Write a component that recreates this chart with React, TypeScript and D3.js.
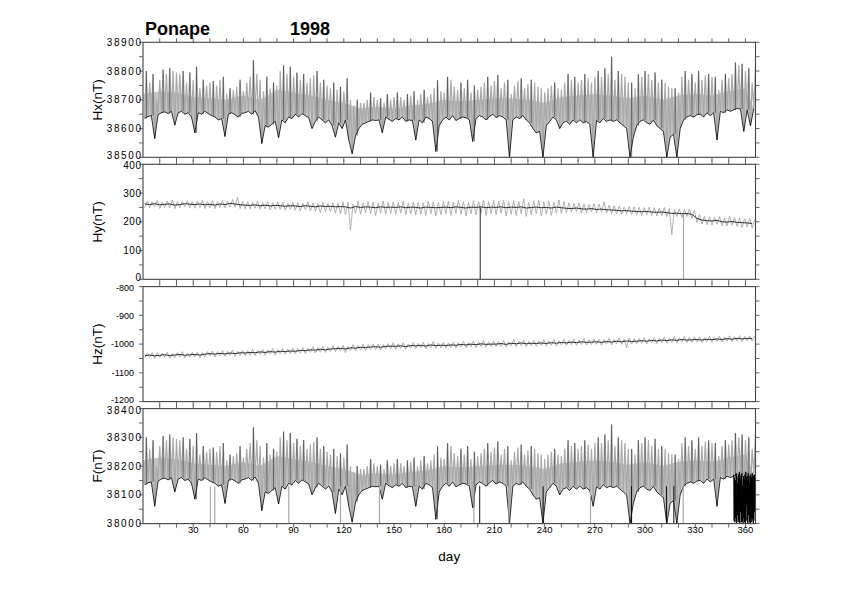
import * as d3 from 'd3';

// Ponape 1998 magnetometer record.
// Hx and F: night-time level and daily peak, one pair per 2 days (day 1, 3, 5 ...)
const hxBase = [
  38635, 38642, 38645, 38565, 38648, 38655, 38658, 38652, 38660, 38612,
  38655, 38660, 38650, 38655, 38640, 38585, 38655, 38650, 38660, 38652,
  38645, 38640, 38630, 38635, 38572, 38650, 38655, 38648, 38640, 38652,
  38655, 38660, 38650, 38662, 38640, 38548, 38610, 38605, 38615, 38625,
  38568, 38630, 38620, 38640, 38635, 38650, 38640, 38652, 38645, 38638,
  38600, 38625, 38640, 38630, 38620, 38630, 38610, 38570, 38620, 38600,
  38630, 38560, 38512, 38575, 38600, 38615, 38620, 38625, 38630, 38628,
  38630, 38585, 38640, 38632, 38625, 38635, 38630, 38640, 38625, 38630,
  38628, 38560, 38630, 38620, 38640, 38635, 38625, 38520, 38610, 38630,
  38640, 38630, 38645, 38628, 38635, 38640, 38638, 38630, 38555, 38635,
  38645, 38640, 38630, 38642, 38650, 38638, 38645, 38640, 38630, 38500,
  38630, 38640, 38635, 38645, 38630, 38620, 38600, 38585, 38590, 38500,
  38610, 38625, 38640, 38630, 38600, 38620, 38625, 38615, 38630, 38620,
  38630, 38620, 38625, 38615, 38500, 38628, 38620, 38635, 38625, 38630,
  38625, 38630, 38620, 38610, 38600, 38500, 38570, 38610, 38625, 38630,
  38620, 38615, 38630, 38610, 38600, 38590, 38500, 38570, 38580, 38500,
  38600, 38630, 38640, 38645, 38640, 38648, 38650, 38640, 38655, 38645,
  38655, 38560, 38660, 38655, 38665, 38660, 38665, 38670, 38668, 38590,
  38665, 38610, 38670,
];
const hxPeak = [
  38800, 38760, 38790, 38700, 38770, 38805, 38790, 38810, 38800, 38795,
  38790, 38800, 38760, 38795, 38770, 38815, 38740, 38770, 38750, 38760,
  38765, 38750, 38770, 38780, 38720, 38740, 38735, 38745, 38770, 38730,
  38760, 38780, 38838, 38790, 38770, 38730, 38780, 38740, 38760, 38750,
  38800, 38820, 38790, 38815, 38780, 38795, 38770, 38790, 38760, 38775,
  38785, 38800, 38760, 38770, 38750, 38740, 38760, 38735, 38745, 38730,
  38775, 38700, 38680, 38700, 38690, 38690, 38700, 38725, 38710, 38700,
  38705, 38690, 38720, 38700, 38710, 38725, 38710, 38700, 38720, 38715,
  38730, 38700, 38720, 38735, 38710, 38720, 38740, 38768, 38730, 38725,
  38780, 38770, 38745, 38735, 38760, 38740, 38770, 38725, 38750, 38735,
  38745, 38760, 38780, 38750, 38765, 38786, 38740, 38760, 38770, 38720,
  38750, 38765, 38775, 38740, 38755, 38770, 38760, 38745, 38740, 38725,
  38740, 38750, 38760, 38740, 38735, 38760, 38790, 38770, 38780, 38760,
  38770, 38790, 38775, 38760, 38780, 38800, 38780, 38810, 38790, 38850,
  38770, 38800, 38790, 38780, 38760, 38760, 38740, 38790, 38780, 38800,
  38790, 38770, 38795, 38760, 38770, 38760, 38745, 38740, 38740, 38725,
  38780, 38800, 38770, 38790, 38760, 38800, 38770, 38785, 38790, 38780,
  38780, 38735, 38770, 38790, 38775, 38790, 38830, 38820, 38825, 38800,
  38810, 38760, 38820,
];
// upper edge of the dense grey band, one value per 10 days (day 0, 10, ... 360)
const hxBand = [
  38720, 38730, 38725, 38710, 38705, 38700, 38715, 38700, 38735, 38725,
  38715, 38700, 38690, 38670, 38675, 38670, 38680, 38685, 38700, 38695,
  38700, 38705, 38705, 38700, 38690, 38710, 38715, 38720, 38715, 38705,
  38715, 38700, 38715, 38720, 38715, 38730, 38740,
];
const fBase = [
  38135, 38142, 38145, 38060, 38148, 38155, 38158, 38152, 38160, 38110,
  38155, 38160, 38150, 38155, 38140, 38085, 38155, 38150, 38160, 38152,
  38145, 38140, 38130, 38135, 38070, 38150, 38155, 38148, 38140, 38152,
  38155, 38160, 38150, 38162, 38140, 38045, 38110, 38105, 38115, 38125,
  38068, 38130, 38120, 38140, 38135, 38150, 38140, 38152, 38145, 38138,
  38100, 38125, 38140, 38130, 38120, 38130, 38110, 38035, 38120, 38100,
  38130, 38060, 38005, 38075, 38100, 38115, 38120, 38125, 38130, 38128,
  38130, 38085, 38140, 38132, 38125, 38135, 38130, 38140, 38125, 38130,
  38128, 38060, 38130, 38120, 38140, 38135, 38125, 38015, 38110, 38130,
  38140, 38130, 38145, 38128, 38135, 38140, 38138, 38130, 38055, 38135,
  38145, 38140, 38130, 38142, 38150, 38138, 38145, 38140, 38130, 38000,
  38130, 38140, 38135, 38145, 38130, 38120, 38100, 38085, 38090, 38000,
  38110, 38125, 38140, 38130, 38100, 38120, 38125, 38115, 38130, 38120,
  38130, 38120, 38125, 38115, 38060, 38128, 38120, 38135, 38125, 38130,
  38125, 38130, 38120, 38110, 38100, 38000, 38070, 38110, 38125, 38130,
  38120, 38115, 38130, 38110, 38100, 38090, 38000, 38070, 38080, 38000,
  38100, 38130, 38140, 38145, 38140, 38148, 38150, 38140, 38155, 38145,
  38155, 38060, 38160, 38155, 38165, 38160, 38165, 38170, 38168, 38090,
  38165, 38110, 38170,
];
const fPeak = [
  38300, 38260, 38290, 38200, 38270, 38305, 38290, 38310, 38300, 38295,
  38290, 38300, 38260, 38295, 38270, 38315, 38240, 38270, 38250, 38260,
  38265, 38250, 38270, 38280, 38220, 38240, 38235, 38245, 38270, 38230,
  38260, 38280, 38335, 38290, 38270, 38230, 38280, 38240, 38260, 38250,
  38300, 38320, 38290, 38315, 38280, 38295, 38270, 38290, 38260, 38275,
  38285, 38300, 38260, 38270, 38250, 38240, 38260, 38235, 38245, 38230,
  38275, 38200, 38180, 38200, 38190, 38190, 38200, 38225, 38210, 38200,
  38205, 38190, 38220, 38200, 38210, 38225, 38210, 38200, 38220, 38215,
  38230, 38200, 38220, 38235, 38210, 38220, 38240, 38268, 38230, 38225,
  38280, 38270, 38245, 38235, 38260, 38240, 38270, 38225, 38250, 38235,
  38245, 38260, 38280, 38250, 38265, 38286, 38240, 38260, 38270, 38220,
  38250, 38265, 38275, 38240, 38255, 38270, 38260, 38245, 38240, 38225,
  38240, 38250, 38260, 38240, 38235, 38260, 38290, 38270, 38280, 38260,
  38270, 38290, 38275, 38260, 38280, 38300, 38280, 38310, 38290, 38345,
  38270, 38300, 38290, 38280, 38260, 38260, 38240, 38290, 38280, 38300,
  38290, 38270, 38295, 38260, 38270, 38260, 38245, 38240, 38240, 38225,
  38280, 38300, 38270, 38290, 38260, 38300, 38270, 38285, 38290, 38280,
  38280, 38235, 38270, 38290, 38275, 38290, 38315, 38300, 38310, 38290,
  38300, 38260, 38310,
];
const fBand = [
  38220, 38230, 38225, 38210, 38205, 38200, 38215, 38200, 38235, 38225,
  38215, 38200, 38190, 38170, 38175, 38170, 38180, 38185, 38200, 38195,
  38200, 38205, 38205, 38200, 38190, 38210, 38215, 38220, 38215, 38205,
  38215, 38200, 38215, 38220, 38215, 38230, 38240,
];
// F: gaps that fall to the bottom of the panel, and the noisy stretch at year end
const fGrayDrops = [40.3, 42.9, 87.1, 118, 141.3, 197.7, 218.6, 267.4, 322.8];
const fBlackDrops = [201.2, 239.1, 291.9, 312.8, 317.2];
const fEndStart = 353;
const fEndValues = [
  38170, 38010, 38160, 38005, 38150, 38020, 38175, 38000, 38165, 38030,
  38140, 38005, 38170, 38015, 38180, 38000, 38150, 38040, 38160, 38005,
  38175, 38010, 38130, 38000, 38165, 38020, 38155, 38005, 38170, 38000,
  38180, 38060, 38160, 38010, 38150, 38000, 38175, 38030, 38165, 38005,
  38140, 38000, 38170, 38020, 38160, 38005, 38175, 38015, 38150, 38000,
  38165, 38040, 38170, 38010,
];

// Hy and Hz: one value per 3 days (day 1, 4, 7 ...): centre, low and high of the scatter
const hyMid = [
  262, 260, 263, 259, 261, 262, 258, 260, 263, 261,
  260, 262, 259, 261, 258, 262, 260, 264, 262, 259,
  258, 257, 259, 256, 258, 255, 257, 256, 254, 256,
  255, 253, 256, 254, 252, 255, 253, 254, 252, 253,
  252, 248, 253, 250, 252, 251, 249, 252, 250, 251,
  250, 252, 249, 251, 250, 248, 251, 250, 249, 250,
  251, 249, 252, 250, 248, 251, 250, 252, 249, 251,
  250, 252, 249, 251, 250, 252, 248, 250, 251, 249,
  250, 248, 251, 249, 247, 246, 248, 245, 244, 246,
  243, 244, 242, 241, 240, 238, 239, 237, 236, 235,
  236, 234, 233, 234, 232, 229, 230, 228, 229, 226,
  212, 206, 204, 203, 205, 200, 199, 201, 198, 197,
  196, 194,
];
const hyHi = [
  272, 270, 275, 268, 272, 276, 270, 271, 274, 270,
  272, 275, 270, 273, 271, 276, 272, 278, 285, 270,
  270, 268, 272, 267, 270, 266, 269, 268, 265, 268,
  266, 264, 270, 265, 263, 268, 264, 266, 265, 270,
  268, 262, 272, 266, 270, 268, 265, 272, 267, 270,
  268, 272, 265, 270, 268, 266, 272, 270, 268, 271,
  272, 268, 275, 270, 268, 274, 271, 276, 270, 274,
  272, 276, 270, 274, 271, 280, 268, 273, 275, 270,
  272, 268, 276, 270, 266, 264, 266, 262, 260, 263,
  262, 270, 258, 256, 255, 252, 254, 252, 251, 250,
  251, 249, 248, 250, 246, 244, 245, 243, 244, 240,
  225, 220, 217, 216, 218, 214, 220, 215, 212, 211,
  212, 208,
];
const hyLo = [
  250, 248, 252, 246, 250, 249, 245, 248, 252, 249,
  247, 250, 246, 249, 245, 250, 248, 251, 250, 246,
  245, 244, 247, 243, 245, 242, 244, 243, 240, 243,
  240, 238, 242, 238, 236, 232, 235, 236, 230, 228,
  225, 170, 230, 226, 232, 228, 222, 230, 226, 229,
  226, 230, 225, 228, 224, 226, 222, 228, 220, 225,
  228, 222, 230, 226, 220, 228, 224, 230, 222, 228,
  224, 230, 220, 226, 222, 228, 218, 225, 228, 220,
  226, 222, 230, 228, 232, 234, 236, 230, 232, 235,
  232, 234, 230, 229, 228, 226, 228, 225, 224, 222,
  225, 222, 220, 222, 218, 155, 218, 215, 218, 212,
  198, 192, 190, 188, 192, 186, 185, 188, 184, 180,
  182, 178,
];
const hyBlackDrops = [201.5];
const hyGrayDrops = [323];

const hzMid = [
  -1040, -1038, -1041, -1039, -1037, -1040, -1038, -1036, -1039, -1037,
  -1036, -1038, -1035, -1033, -1035, -1032, -1034, -1031, -1033, -1030,
  -1031, -1029, -1030, -1027, -1029, -1026, -1028, -1025, -1026, -1024,
  -1025, -1022, -1023, -1020, -1021, -1018, -1020, -1017, -1016, -1015,
  -1017, -1013, -1014, -1011, -1012, -1010, -1009, -1011, -1008, -1007,
  -1008, -1006, -1009, -1005, -1006, -1004, -1007, -1003, -1005, -1004,
  -1005, -1003, -1004, -1001, -1003, -1000, -1002, -999, -1001, -1000,
  -1000, -998, -1001, -997, -999, -996, -999, -997, -998, -996,
  -998, -995, -997, -994, -996, -993, -995, -992, -994, -993,
  -992, -994, -991, -993, -990, -992, -989, -991, -990, -988,
  -990, -987, -989, -986, -988, -985, -987, -984, -986, -985,
  -984, -986, -983, -985, -982, -984, -981, -983, -980, -982,
  -980, -981,
];
const hzHi = [
  -1032, -1030, -1030, -1031, -1028, -1032, -1030, -1026, -1031, -1028,
  -1027, -1029, -1026, -1024, -1026, -1022, -1025, -1020, -1024, -1021,
  -1022, -1018, -1021, -1018, -1020, -1015, -1019, -1015, -1017, -1014,
  -1016, -1012, -1014, -1009, -1012, -1008, -1011, -1006, -1007, -1004,
  -1008, -1002, -1005, -1000, -1003, -999, -1000, -1001, -998, -995,
  -999, -995, -1000, -994, -997, -993, -998, -990, -996, -994,
  -996, -992, -995, -990, -994, -989, -993, -988, -992, -990,
  -991, -987, -992, -984, -990, -986, -990, -987, -989, -985,
  -989, -984, -988, -983, -987, -983, -986, -981, -985, -982,
  -983, -984, -980, -984, -977, -983, -979, -981, -980, -978,
  -981, -977, -980, -975, -979, -974, -978, -973, -977, -975,
  -975, -977, -973, -976, -972, -975, -971, -974, -970, -973,
  -971, -972,
];
const hzLo = [
  -1048, -1046, -1050, -1047, -1046, -1049, -1047, -1045, -1048, -1046,
  -1045, -1048, -1044, -1042, -1045, -1041, -1043, -1040, -1042, -1040,
  -1040, -1039, -1040, -1036, -1039, -1035, -1038, -1034, -1036, -1033,
  -1034, -1032, -1033, -1029, -1031, -1028, -1030, -1026, -1026, -1024,
  -1030, -1022, -1024, -1020, -1022, -1019, -1018, -1021, -1017, -1016,
  -1018, -1015, -1019, -1014, -1016, -1013, -1017, -1012, -1015, -1013,
  -1014, -1012, -1014, -1010, -1013, -1009, -1012, -1008, -1011, -1009,
  -1009, -1008, -1011, -1006, -1009, -1005, -1009, -1006, -1008, -1005,
  -1007, -1004, -1007, -1003, -1005, -1002, -1005, -1001, -1004, -1002,
  -1001, -1004, -1000, -1003, -999, -1001, -1012, -1000, -1000, -997,
  -999, -996, -998, -995, -997, -994, -996, -993, -995, -994,
  -993, -995, -992, -994, -991, -993, -990, -992, -989, -991,
  -989, -990,
];

const panelLabels = ['Hx(nT)', 'Hy(nT)', 'Hz(nT)', 'F(nT)'];
const panelDomains = [[38500, 38900], [0, 400], [-1200, -800], [38000, 38400]];

const FONT = '"Liberation Sans", Arial, Helvetica, sans-serif';
const GRAY = '#a9a9a9';
const BAND = '#c4c4c4';
const left = 143;
const right = 755.5;
const tops = [42.3, 164.3, 286.6, 408.6];
const panelH = 115;
// tick-label look per panel (the 5-digit labels are drawn wide in the original)
const labelStyle = [
  { end: 141, size: 10, spacing: 1.6 },
  { end: 141, size: 10, spacing: 0.5 },
  { end: 134, size: 9, spacing: 0 },
  { end: 141, size: 10, spacing: 1.6 },
];

const x = d3.scaleLinear().domain([0, 366]).range([left, right]);
const dayTicks = d3.range(10, 366, 10);
const dayLabels = d3.range(30, 366, 30);
const line = d3.line();

const day2 = (i: number) => 1 + 2 * i;
const day3 = (i: number) => 1 + 3 * i;

function spikes(base: number[], peak: number[], y: d3.ScaleLinear<number, number>) {
  const pts: [number, number][] = [];
  base.forEach((b, i) => {
    pts.push([x(day2(i)), y(b)], [x(day2(i) + 1), y(peak[i])]);
  });
  return line(pts) || '';
}

function band(base: number[], top: number[], y: d3.ScaleLinear<number, number>) {
  const upper = top.map((v, i) => [x(i * 10), y(v)] as [number, number]);
  const lower = base.map((v, i) => [x(day2(i)), y(v)] as [number, number]).reverse();
  return (line([...upper, ...lower]) || '') + 'Z';
}

// black strokes on the days whose peak stands above both neighbours
function blackSpikes(base: number[], peak: number[], y: d3.ScaleLinear<number, number>) {
  return base
    .map((b, i) => {
      const p = peak[i];
      const isTop = p >= (peak[i - 1] ?? 0) && p >= (peak[i + 1] ?? 0);
      return isTop ? `M${x(day2(i) + 1)},${y(b)}V${y(p)}` : '';
    })
    .join('');
}

function zigzag(lo: number[], hi: number[], y: d3.ScaleLinear<number, number>) {
  const pts: [number, number][] = [];
  lo.forEach((v, i) => {
    pts.push([x(day3(i)), y(v)], [x(day3(i) + 1.5), y(hi[i])]);
  });
  return line(pts) || '';
}

function drops(days: number[], from: number, y: d3.ScaleLinear<number, number>) {
  return days.map((d) => `M${x(d)},${y(from)}V${y.range()[0] + 2}`).join('');
}

export default function App() {
  const ys = panelDomains.map((dom, i) =>
    d3.scaleLinear().domain(dom).range([tops[i] + panelH, tops[i]])
  );
  const [yHx, yHy, yHz, yF] = ys;

  return (
    <svg width={842} height={595} style={{ position: 'absolute', left: 0, top: 0, background: '#fff' }}>
      <defs>
        {ys.map((_, i) => (
          <clipPath id={`clip${i}`} key={i}>
            <rect x={left} y={tops[i]} width={right - left} height={panelH} />
          </clipPath>
        ))}
      </defs>

      {/* Hx */}
      <g clipPath="url(#clip0)" fill="none">
        <path d={band(hxBase, hxBand, yHx)} fill={BAND} stroke="none" />
        <path d={spikes(hxBase, hxPeak, yHx)} stroke={GRAY} strokeWidth={1.2} />
        <path d={line(hxBase.map((v, i) => [x(day2(i)), yHx(v)])) || ''} stroke="#000" strokeWidth={0.8} />
        <path d={blackSpikes(hxBase, hxPeak, yHx)} stroke="#222" strokeWidth={0.6} />
      </g>

      {/* Hy */}
      <g clipPath="url(#clip1)" fill="none">
        <path d={zigzag(hyLo, hyHi, yHy)} stroke={GRAY} strokeWidth={0.9} />
        <path d={line(hyMid.map((v, i) => [x(day3(i)), yHy(v)])) || ''} stroke="#000" strokeWidth={0.8} />
        <path d={drops(hyBlackDrops, 250, yHy)} stroke="#222" strokeWidth={1} />
        <path d={drops(hyGrayDrops, 226, yHy)} stroke={GRAY} strokeWidth={1.2} />
      </g>

      {/* Hz */}
      <g clipPath="url(#clip2)" fill="none">
        <path d={zigzag(hzLo, hzHi, yHz)} stroke={GRAY} strokeWidth={0.9} />
        <path d={line(hzMid.map((v, i) => [x(day3(i)), yHz(v)])) || ''} stroke="#000" strokeWidth={0.8} />
      </g>

      {/* F */}
      <g clipPath="url(#clip3)" fill="none">
        <path d={band(fBase, fBand, yF)} fill={BAND} stroke="none" />
        <path d={spikes(fBase, fPeak, yF)} stroke={GRAY} strokeWidth={1.2} />
        <path d={line(fBase.map((v, i) => [x(day2(i)), yF(v)])) || ''} stroke="#000" strokeWidth={0.8} />
        <path d={blackSpikes(fBase, fPeak, yF)} stroke="#222" strokeWidth={0.6} />
        <path d={drops(fGrayDrops, 38130, yF)} stroke={GRAY} strokeWidth={1.2} />
        <path d={drops(fBlackDrops, 38130, yF)} stroke="#111" strokeWidth={1} />
        <path
          d={line(fEndValues.map((v, i) => [x(fEndStart + i * 0.24), yF(v)])) || ''}
          stroke="#000"
          strokeWidth={1}
        />
      </g>

      {/* frames, ticks, labels */}
      {ys.map((y, i) => {
        const [lo, hi] = panelDomains[i];
        const top = tops[i];
        const bottom = top + panelH;
        const vTicks = d3.range(lo, hi + 1, 50);
        const ls = labelStyle[i];
        return (
          <g key={i}>
            <rect x={left} y={top} width={right - left} height={panelH} fill="none" stroke="#444" strokeWidth={1.1} />
            {dayTicks.map((d) => (
              <g key={d} stroke="#555" strokeWidth={0.9}>
                <line x1={x(d)} x2={x(d)} y1={top} y2={top - 4} />
                <line x1={x(d)} x2={x(d)} y1={bottom} y2={bottom + 4} />
              </g>
            ))}
            {vTicks.map((v) => (
              <g key={v} stroke="#555" strokeWidth={0.9}>
                <line x1={left} x2={left - 4} y1={y(v)} y2={y(v)} />
                <line x1={right} x2={right + 4} y1={y(v)} y2={y(v)} />
              </g>
            ))}
            {vTicks
              .filter((v) => v % 100 === 0)
              .map((v) => {
                // pull the end labels apart where two panels meet
                const nudge = v === lo && i < 3 ? -1.5 : v === hi && i > 0 ? 1.5 : 0;
                return (
                  <text
                    key={`l${v}`}
                    x={ls.end + ls.spacing}
                    y={y(v) + nudge}
                    dy="0.35em"
                    textAnchor="end"
                    fontFamily={FONT}
                    fontSize={ls.size}
                    letterSpacing={ls.spacing}
                    fill="#000"
                  >
                    {v}
                  </text>
                );
              })}
            <text
              transform={`translate(102,${top + panelH / 2}) rotate(-90)`}
              textAnchor="middle"
              fontFamily={FONT}
              fontSize={13.5}
              fill="#000"
            >
              {panelLabels[i]}
            </text>
          </g>
        );
      })}

      {dayLabels.map((d) => (
        <text key={d} x={x(d)} y={tops[3] + panelH + 9.5} textAnchor="middle" fontFamily={FONT} fontSize={9.5} fill="#000">
          {d}
        </text>
      ))}
      <text x={x(183)} y={561} textAnchor="middle" fontFamily={FONT} fontSize={13.5} fill="#000">
        day
      </text>

      <text x={145} y={35} fontFamily={FONT} fontSize={18} fontWeight="bold" fill="#000">
        Ponape
      </text>
      <text x={290} y={35} fontFamily={FONT} fontSize={18} fontWeight="bold" fill="#000">
        1998
      </text>
    </svg>
  );
}
